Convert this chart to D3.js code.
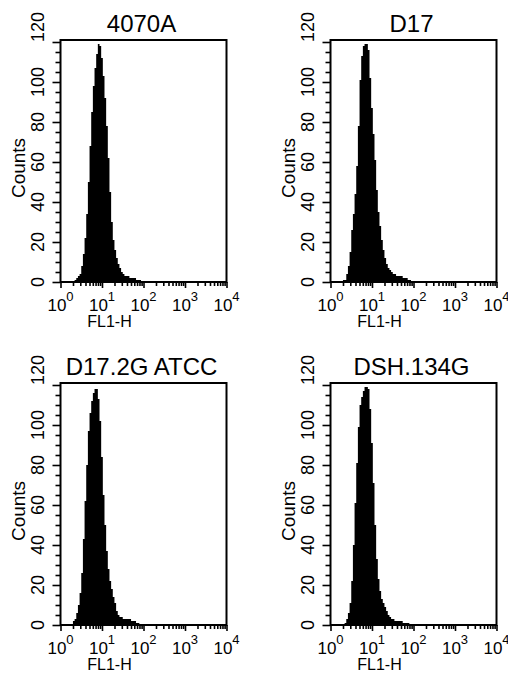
<!DOCTYPE html>
<html>
<head>
<meta charset="utf-8">
<script src="https://cdn.jsdelivr.net/npm/d3@7"></script>
<style>
    body { margin: 0; background: #fff; }
    svg { display: block; font-family: "Liberation Sans", Arial, Helvetica, sans-serif; }
    .axis path { display: none; }
    .axis line { stroke: #000; stroke-width: 1.6; }
</style>
</head>
<body>
<div id="chart"></div>
<script>
const PANEL_TITLES = ["4070A", "D17", "D17.2G ATCC", "DSH.134G"];

// lower edge of each histogram channel, in decades of FL1-H
const CHANNELS = [0.30, 0.34, 0.38, 0.42, 0.46, 0.50, 0.54, 0.58, 0.62, 0.66, 0.70,
    0.74, 0.78, 0.82, 0.86, 0.90, 0.94, 0.98, 1.02, 1.06, 1.10, 1.14, 1.18, 1.22,
    1.26, 1.30, 1.34, 1.38, 1.42, 1.46, 1.50, 1.54, 1.58, 1.62, 1.66, 1.70, 1.74,
    1.78, 1.82, 1.86, 1.90, 1.94, 1.98, 2.02];

const COUNTS_4070A = [0, 1, 2, 3, 4, 8, 14, 22, 34, 50, 68, 85, 98, 107, 114, 119, 118,
    112, 103, 92, 78, 62, 45, 30, 21, 16, 12, 9, 7, 5, 4, 3, 3, 3, 2, 2, 2, 2, 1, 1, 1, 0, 0, 0];
const COUNTS_D17 = [1, 1, 4, 8, 15, 26, 34, 44, 58, 78, 101, 113, 118, 119, 119, 116, 102,
    87, 74, 61, 46, 35, 28, 21, 16, 12, 9, 7, 6, 5, 4, 4, 3, 3, 3, 3, 2, 2, 2, 1, 1, 0, 0, 0];
const COUNTS_D17_2G = [2, 3, 6, 10, 16, 26, 43, 62, 80, 97, 106, 112, 116, 118, 118, 113, 102,
    84, 65, 50, 37, 28, 22, 18, 14, 11, 7, 5, 4, 4, 3, 3, 3, 3, 3, 2, 2, 2, 1, 1, 0, 0, 0, 0];
const COUNTS_DSH134G = [0, 1, 3, 6, 11, 22, 40, 61, 81, 99, 110, 114, 117, 119, 119, 118, 108,
    91, 71, 50, 33, 23, 17, 13, 11, 9, 7, 5, 4, 3, 3, 2, 2, 2, 2, 2, 1, 1, 1, 1, 0, 0, 0, 0];

const Y_MAJOR = [0, 20, 40, 60, 80, 100, 120];
const Y_MINOR = [5, 10, 15, 25, 30, 35, 45, 50, 55, 65, 70, 75, 85, 90, 95, 105, 110, 115];
const X_DECADES = [0, 1, 2, 3, 4];

const width = 508;
const height = 675;
const plotW = 166;
const plotH = 242;

const panels = [
    { title: PANEL_TITLES[0], counts: COUNTS_4070A, left: 60.5, top: 40 },
    { title: PANEL_TITLES[1], counts: COUNTS_D17, left: 330.5, top: 40 },
    { title: PANEL_TITLES[2], counts: COUNTS_D17_2G, left: 60.5, top: 383 },
    { title: PANEL_TITLES[3], counts: COUNTS_DSH134G, left: 330.5, top: 383 }
];

const svg = d3.select("#chart")
    .append("svg")
    .attr("width", width)
    .attr("height", height);

function drawPanel(p) {
    const g = svg.append("g")
        .attr("transform", `translate(${p.left},${p.top})`);

    const x = d3.scaleLog()
        .domain([1, 1e4])
        .range([0, plotW]);

    const y = d3.scaleLinear()
        .domain([0, 121])
        .range([plotH, 0]);

    const data = CHANNELS.map((ch, i) => ({ ch, count: p.counts[i] }));

    const area = d3.area()
        .x(d => x(Math.pow(10, d.ch)))
        .y0(y(0))
        .y1(d => y(d.count))
        .curve(d3.curveStepAfter);

    g.append("path")
        .datum(data)
        .attr("d", area)
        .attr("fill", "#000");

    // frame
    g.append("rect")
        .attr("x", x(1))
        .attr("y", y(121))
        .attr("width", x(1e4) - x(1))
        .attr("height", y(0) - y(121))
        .attr("fill", "none")
        .attr("stroke", "#000")
        .attr("stroke-width", 2);

    // y ticks
    g.append("g")
        .attr("class", "axis")
        .call(d3.axisLeft(y).tickValues(Y_MINOR).tickSize(5).tickFormat(""));
    g.append("g")
        .attr("class", "axis")
        .call(d3.axisLeft(y).tickValues(Y_MAJOR).tickSize(8).tickFormat(""));

    // x ticks
    const minor = x.ticks().filter(v => Math.abs(Math.log10(v) % 1) > 1e-6);
    g.append("g")
        .attr("class", "axis")
        .attr("transform", `translate(0,${plotH})`)
        .call(d3.axisBottom(x).tickValues(minor).tickSize(4).tickFormat(""));
    g.append("g")
        .attr("class", "axis")
        .attr("transform", `translate(0,${plotH})`)
        .call(d3.axisBottom(x).tickValues(X_DECADES.map(d => Math.pow(10, d))).tickSize(6).tickFormat(""));

    // y labels, rotated
    g.selectAll(".ylab")
        .data(Y_MAJOR)
        .enter()
        .append("text")
        .attr("class", "ylab")
        .attr("transform", d => `translate(-17,${y(d)}) rotate(-90)`)
        .attr("text-anchor", d => (d === 120 ? "start" : "middle"))
        .attr("font-size", 18)
        .text(d => d);

    g.append("text")
        .attr("transform", `translate(-36,${plotH / 2 + 7}) rotate(-90)`)
        .attr("text-anchor", "middle")
        .attr("font-size", 19)
        .text("Counts");

    // x labels 10^n
    const xl = g.selectAll(".xlab")
        .data(X_DECADES)
        .enter()
        .append("text")
        .attr("class", "xlab")
        .attr("x", d => x(Math.pow(10, d)))
        .attr("y", plotH + 29)
        .attr("text-anchor", "middle")
        .attr("font-size", 17);
    xl.append("tspan").text("10");
    xl.append("tspan")
        .attr("dy", -10)
        .attr("font-size", 13)
        .text(d => d);

    g.append("text")
        .attr("x", 49)
        .attr("y", plotH + 45)
        .attr("text-anchor", "middle")
        .attr("font-size", 16)
        .text("FL1-H");

    g.append("text")
        .attr("x", plotW / 2 - 2)
        .attr("y", -8.5)
        .attr("text-anchor", "middle")
        .attr("font-size", 24)
        .text(p.title);
}

panels.forEach(drawPanel);
</script>
</body>
</html>
